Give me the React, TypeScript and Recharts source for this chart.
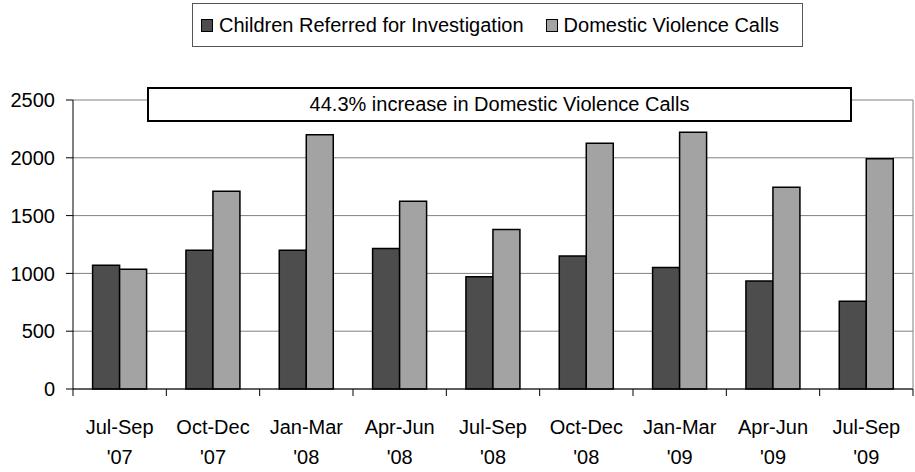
import { BarChart, Bar, XAxis, YAxis, CartesianGrid, Legend } from "recharts";

const quarters = ["Jul-Sep", "Oct-Dec", "Jan-Mar", "Apr-Jun", "Jul-Sep", "Oct-Dec", "Jan-Mar", "Apr-Jun", "Jul-Sep"];
const years = ["'07", "'07", "'08", "'08", "'08", "'08", "'09", "'09", "'09"];
const childrenReferred = [1070, 1200, 1200, 1215, 970, 1150, 1050, 935, 760];
const dvCalls = [1035, 1710, 2200, 1625, 1380, 2125, 2220, 1745, 1991];
const yTicks = [0, 500, 1000, 1500, 2000, 2500];

const rows = quarters.map((q, i) => ({
  period: `${q} ${years[i]}`,
  children: childrenReferred[i],
  calls: dvCalls[i],
}));

const FONT = '"Liberation Sans", Arial, sans-serif';

// Excel-style category axis: tick marks sit between categories, label is two lines
const PeriodTick = (props: any) => {
  const { x, y, index, width } = props;
  const band = (width ?? 840) / quarters.length;
  const left = x - band / 2;
  const right = x + band / 2;
  return (
    <g>
      <line x1={left} x2={left} y1={y - 7} y2={y} stroke="#000" />
      {index === quarters.length - 1 && <line x1={right} x2={right} y1={y - 7} y2={y} stroke="#000" />}
      <text x={x} y={y + 38} textAnchor="middle" fontSize={20} fontFamily={FONT} fill="#000">
        {quarters[index]}
      </text>
      <text x={x} y={y + 68} textAnchor="middle" fontSize={20} fontFamily={FONT} fill="#000">
        {years[index]}
      </text>
    </g>
  );
};

const LegendBox = ({ payload }: any) => (
  <div
    style={{
      boxSizing: "border-box",
      width: 611,
      height: 44,
      border: "1px solid #555",
      display: "flex",
      alignItems: "center",
      paddingLeft: 8,
      fontFamily: FONT,
      fontSize: 20,
      color: "#000",
      background: "#fff",
    }}
  >
    {(payload || []).map((entry: any, i: number) => (
      <div key={entry.value} style={{ display: "flex", alignItems: "center", marginLeft: i ? 22 : 0 }}>
        <div
          style={{
            width: 10,
            height: 11,
            background: entry.color,
            border: "1px solid #000",
            marginRight: 6,
          }}
        />
        {entry.value}
      </div>
    ))}
  </div>
);

export default function App() {
  return (
    <div style={{ position: "relative", width: 915, height: 472, background: "#fff" }}>
      <style>{`body { margin: 0; }`}</style>
      <BarChart
        width={915}
        height={472}
        data={rows}
        margin={{ top: 100, right: 0, bottom: 23, left: 13 }}
        barCategoryGap="21%"
        barGap={0}
      >
        <CartesianGrid vertical={false} stroke="#808080" />
        <XAxis
          dataKey="period"
          height={60}
          interval={0}
          tickSize={7}
          tickMargin={0}
          tickLine={false}
          axisLine={{ stroke: "#000" }}
          tick={<PeriodTick />}
        />
        <YAxis
          width={60}
          domain={[0, 2500]}
          ticks={yTicks}
          tickSize={7}
          tickMargin={11}
          axisLine={{ stroke: "#000" }}
          tickLine={{ stroke: "#000" }}
          tick={{ fontSize: 20, fontFamily: FONT, fill: "#000" }}
        />
        <YAxis
          yAxisId="frame"
          orientation="right"
          width={2}
          tick={false}
          tickLine={false}
          axisLine={{ stroke: "#808080" }}
        />
        <Legend
          layout="horizontal"
          verticalAlign="middle"
          align="center"
          wrapperStyle={{ top: 3, left: 192, width: 611, height: 44 }}
          content={<LegendBox />}
        />
        <Bar
          dataKey="children"
          name="Children Referred for Investigation"
          fill="#4d4d4d"
          stroke="#000"
          strokeWidth={1.5}
          isAnimationActive={false}
        />
        <Bar
          dataKey="calls"
          name="Domestic Violence Calls"
          fill="#a3a3a3"
          stroke="#000"
          strokeWidth={1.5}
          isAnimationActive={false}
        />
      </BarChart>
      <div
        style={{
          position: "absolute",
          left: 147,
          top: 87,
          width: 705,
          height: 35,
          boxSizing: "border-box",
          border: "2px solid #000",
          background: "#fff",
          display: "flex",
          alignItems: "center",
          justifyContent: "center",
          fontFamily: FONT,
          fontSize: 20,
          color: "#000",
        }}
      >
        44.3% increase in Domestic Violence Calls
      </div>
    </div>
  );
}
